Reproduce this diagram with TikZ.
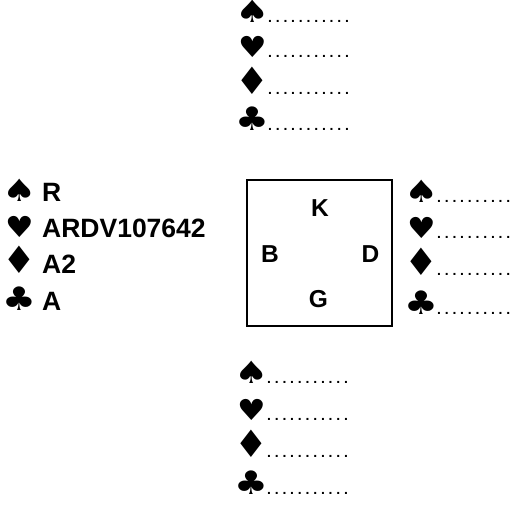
\documentclass[tikz,border=0pt]{standalone}
\usepackage{fontspec}
\setmainfont{Liberation Sans}
\newfontfamily\suitfont{DejaVu Sans}
\newcommand{\wtextfont}{\rmfamily\bfseries\fontsize{26.5}{26.5}\selectfont}
\newcommand{\Sp}{\makebox[27pt][c]{\scalebox{1.32}[1.06]{♠}}}
\newcommand{\He}{\makebox[27pt][c]{\scalebox{1.1}[1.0]{♥}}}
\newcommand{\Di}{\makebox[27pt][c]{\scalebox{1.3}[1.3]{♦}}}
\newcommand{\Cl}{\makebox[27pt][c]{\scalebox{1.3}[1.12]{♣}}}
\newcommand{\dotrowN}[1]{{\rmfamily\fontsize{14}{14}\selectfont\bfseries\hbox to #1{\xleaders\hbox to 7.7pt{\hss.\hss}\hfill}}}
\newcommand{\dotrow}{\dotrowN{84.7pt}}
\newcommand{\dotrowE}{\dotrowN{77pt}}
\tikzset{
  hand/.style={anchor=base west, inner sep=0pt, font=\suitfont\fontsize{29}{29}\selectfont},
  seat/.style={anchor=base, inner sep=0pt, font=\bfseries\fontsize{24.5}{24.5}\selectfont},
  tablebox/.style={draw, line width=1.3pt, minimum width=145pt, minimum height=146pt, inner sep=0pt}
}
\begin{document}
\begin{tikzpicture}[x=1pt,y=-1pt]
\useasboundingbox (0,0) rectangle (517,505);
% North
\node[hand] (n1) at (239,23) {\Sp\dotrow};
\node[hand] (n2) at (239,58) {\He\dotrow};
\node[hand] (n3) at (239,95) {\Di\dotrow};
\node[hand] (n4) at (239,131) {\Cl\dotrow};
% table
\node[tablebox] (table) at (319.5,253) {};
\node[seat] (k) at (320,217) {K};
\node[seat] (b) at (270,262) {B};
\node[seat] (d) at (370.5,262) {D};
\node[seat] (g) at (318.5,308) {G};
% East
\node[hand] (e1) at (408,203) {\Sp\dotrowE};
\node[hand] (e2) at (408,239) {\He\dotrowE};
\node[hand] (e3) at (408,276) {\Di\dotrowE};
\node[hand] (e4) at (408,314) {\Cl\dotrowE};
% West
\node[hand] (w1) at (6,202) {\Sp\hspace{9pt}\wtextfont R};
\node[hand] (w2) at (6,238) {\He\hspace{9pt}\wtextfont ARDV107642};
\node[hand] (w3) at (6,274) {\Di\hspace{9pt}\wtextfont A2};
\node[hand] (w4) at (6,310) {\Cl\hspace{9pt}\wtextfont A};
% South
\node[hand] (s1) at (238,383) {\Sp\dotrow};
\node[hand] (s2) at (238,420) {\He\dotrow};
\node[hand] (s3) at (238,457) {\Di\dotrow};
\node[hand] (s4) at (238,494) {\Cl\dotrow};
\end{tikzpicture}
\end{document}
